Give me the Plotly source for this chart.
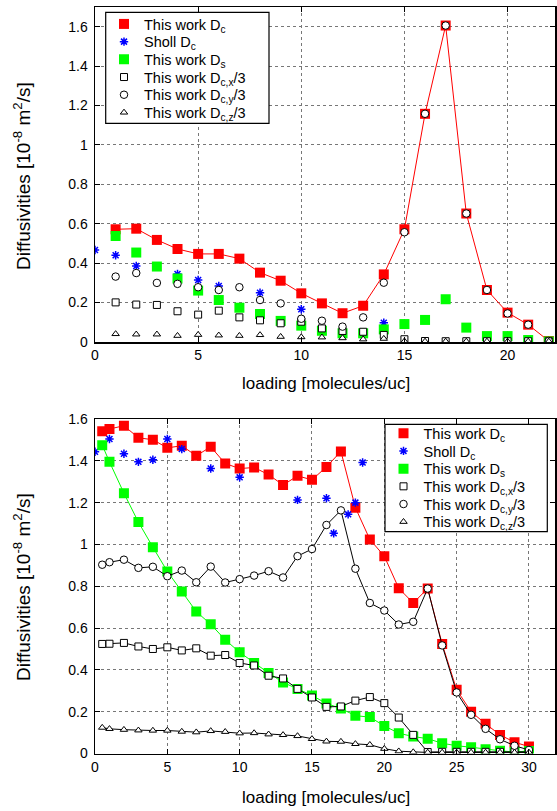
import plotly.graph_objects as go

# ---------------- data: top panel ----------------
top_x = list(range(1, 23))
top_dc = [0.572, 0.575, 0.518, 0.472, 0.447, 0.447, 0.423, 0.352, 0.311, 0.247, 0.196,
          0.146, 0.184, 0.343, 0.572, 1.158, 1.606, 0.652, 0.264, 0.149, 0.088, 0.005]
top_sholl_x = [0, 1, 2, 4, 5, 6, 8, 10, 14]
top_sholl = [0.467, 0.440, 0.386, 0.345, 0.315, 0.284, 0.250, 0.166, 0.098]
top_ds = [0.538, 0.454, 0.383, 0.322, 0.261, 0.213, 0.174, 0.142, 0.107, 0.083, 0.057,
          0.044, 0.044, 0.064, 0.091, 0.112, 0.217, 0.073, 0.030, 0.030, 0.010, 0.003]
top_dcx = [0.201, 0.190, 0.188, 0.156, 0.139, 0.159, 0.125, 0.110, 0.095, 0.103, 0.069,
           0.056, 0.052, 0.036, 0.014, 0.005, 0.004, 0.004, 0.004, 0.004, 0.004, 0.004]
top_dcy = [0.332, 0.350, 0.300, 0.295, 0.278, 0.264, 0.278, 0.213, 0.196, 0.118, 0.108,
           0.078, 0.125, 0.301, 0.557, 1.158, 1.606, 0.652, 0.264, 0.145, 0.088, 0.005]
top_dcz = [0.041, 0.039, 0.039, 0.032, 0.037, 0.034, 0.032, 0.036, 0.027, 0.025, 0.024,
           0.020, 0.014, 0.017, 0.004, 0.003, 0.003, 0.003, 0.003, 0.003, 0.003, 0.003]

# ---------------- data: bottom panel ----------------
bot_x = [0.5] + list(range(1, 31))
bot_dc = [1.542, 1.552, 1.568, 1.510, 1.501, 1.462, 1.472, 1.424, 1.467, 1.387, 1.363,
          1.368, 1.334, 1.284, 1.328, 1.309, 1.371, 1.445, 1.176, 1.024, 0.944, 0.790,
          0.720, 0.789, 0.524, 0.305, 0.200, 0.142, 0.089, 0.054, 0.033]
bot_sholl_x = [0, 1, 2, 3, 4, 5, 6, 8, 10, 14, 16, 16.5, 17.5, 18, 18.5]
bot_sholl = [1.443, 1.504, 1.434, 1.395, 1.405, 1.504, 1.456, 1.363, 1.321, 1.213, 1.221,
             1.053, 1.144, 1.200, 1.392]
bot_ds = [1.475, 1.395, 1.245, 1.107, 0.987, 0.871, 0.775, 0.679, 0.618, 0.544, 0.484,
          0.433, 0.385, 0.340, 0.308, 0.278, 0.239, 0.215, 0.181, 0.174, 0.132, 0.097,
          0.081, 0.071, 0.049, 0.037, 0.030, 0.020, 0.013, 0.007, 0.012]
bot_dcx = [0.524, 0.525, 0.529, 0.512, 0.500, 0.508, 0.493, 0.503, 0.468, 0.471, 0.433,
           0.421, 0.372, 0.359, 0.309, 0.268, 0.223, 0.225, 0.253, 0.270, 0.241, 0.172,
           0.089, 0.007, 0.008, 0.008, 0.008, 0.008, 0.008, 0.008, 0.008]
bot_dcy = [0.903, 0.915, 0.927, 0.888, 0.893, 0.848, 0.875, 0.819, 0.894, 0.818, 0.834,
           0.851, 0.872, 0.842, 0.944, 0.978, 1.093, 1.163, 0.884, 0.720, 0.684, 0.617,
           0.630, 0.789, 0.517, 0.292, 0.185, 0.118, 0.068, 0.037, 0.017]
bot_dcz = [0.124, 0.118, 0.114, 0.111, 0.110, 0.110, 0.105, 0.102, 0.108, 0.104, 0.097,
           0.098, 0.092, 0.089, 0.084, 0.070, 0.058, 0.057, 0.046, 0.042, 0.023, 0.011,
           0.007, 0.005, 0.005, 0.005, 0.005, 0.005, 0.005, 0.005, 0.005]

legend_names = ["This work D<sub>c</sub>", "Sholl D<sub>c</sub>", "This work D<sub>s</sub>",
                "This work D<sub>c,x</sub>/3", "This work D<sub>c,y</sub>/3",
                "This work D<sub>c,z</sub>/3"]
x_ticks_top = [0, 5, 10, 15, 20]
x_ticks_bot = [0, 5, 10, 15, 20, 25, 30]
y_ticks = [0, 0.2, 0.4, 0.6, 0.8, 1, 1.2, 1.4, 1.6]

FONT = "Liberation Sans, Arial, Helvetica, sans-serif"
W, H = 557, 811
RED, GREEN, BLUE, BLACK = "#ff0000", "#00ff00", "#0000ff", "#000000"

styles = [
    dict(symbol="square", size=10, color=RED, line=dict(width=0)),
    dict(symbol="asterisk-open", size=7, color=BLUE, line=dict(width=1.5, color=BLUE)),
    dict(symbol="square", size=10, color=GREEN, line=dict(width=0)),
    dict(symbol="square", size=7, color="white", line=dict(width=1, color=BLACK)),
    dict(symbol="circle", size=7.5, color="white", line=dict(width=1, color=BLACK)),
    dict(symbol="triangle-up", size=6.5, color="white", line=dict(width=1, color=BLACK)),
]

fig = go.Figure()

# top panel: only Dc has a line
top_series = [(top_x, top_dc, "lines+markers", RED), (top_sholl_x, top_sholl, "markers", None),
              (top_x, top_ds, "markers", None), (top_x, top_dcx, "markers", None),
              (top_x, top_dcy, "markers", None), (top_x, top_dcz, "markers", None)]
for (xs, ys, mode, lc), st in zip(top_series, styles):
    fig.add_trace(go.Scatter(x=xs, y=ys, mode=mode, marker=st,
                             line=dict(color=lc or BLACK, width=1),
                             xaxis="x", yaxis="y", showlegend=False))

bot_series = [(bot_x, bot_dc, "lines+markers", RED), (bot_sholl_x, bot_sholl, "markers", None),
              (bot_x, bot_ds, "lines+markers", GREEN), (bot_x, bot_dcx, "lines+markers", BLACK),
              (bot_x, bot_dcy, "lines+markers", BLACK), (bot_x, bot_dcz, "lines+markers", BLACK)]
for (xs, ys, mode, lc), st in zip(bot_series, styles):
    fig.add_trace(go.Scatter(x=xs, y=ys, mode=mode, marker=st,
                             line=dict(color=lc or BLACK, width=1),
                             xaxis="x2", yaxis="y2", showlegend=False))

# legend boxes (pixel geometry of the reference key boxes)
boxes = [(105.7, 12.3, 269, 123.3), (385, 424.3, 547.3, 531.7)]
row_step = 17.7
first_row = [24.0, 433.3]
legend_left = [104.0, 383.5]

layout_legends = {}
k = 0
for p in range(2):
    x0, y0, x1, y1 = boxes[p]
    fig.add_shape(type="rect", xref="paper", yref="paper", layer="above",
                  x0=x0 / W, x1=x1 / W, y0=1 - y1 / H, y1=1 - y0 / H,
                  line=dict(color=BLACK, width=1.2), fillcolor="white")
    for i, (name, st) in enumerate(zip(legend_names, styles)):
        k += 1
        lname = "legend" if k == 1 else f"legend{k}"
        fig.add_trace(go.Scatter(x=[None], y=[None], mode="markers", marker=st, name=name,
                                 legend=lname, showlegend=True,
                                 xaxis="x" if p == 0 else "x2",
                                 yaxis="y" if p == 0 else "y2"))
        yc = first_row[p] + i * row_step
        layout_legends[lname] = dict(
            x=legend_left[p] / W, y=1 - yc / H, xanchor="left", yanchor="middle",
            bgcolor="rgba(0,0,0,0)", borderwidth=0,
            font=dict(family=FONT, size=14.5, color=BLACK), itemsizing="trace")

xl, xr = 95 / W, 555 / W
ax_common = dict(showline=True, linecolor=BLACK, linewidth=1.5, mirror="allticks",
                 ticks="inside", ticklen=5, tickwidth=1, tickcolor=BLACK,
                 showgrid=True, gridcolor="#777777", griddash="dot", gridwidth=1,
                 zeroline=False, tickfont=dict(family=FONT, size=14, color=BLACK),
                 fixedrange=True, automargin=False)

fig.update_layout(
    width=W, height=H, autosize=False,
    margin=dict(l=0, r=0, t=0, b=0, pad=0, autoexpand=False),
    paper_bgcolor="white", plot_bgcolor="white",
    font=dict(family=FONT, size=14, color=BLACK),
    xaxis=dict(domain=[xl, xr], range=[0, 22.3], tickvals=x_ticks_top, anchor="y",
               ticklabelstandoff=0, **ax_common),
    yaxis=dict(domain=[1 - 342 / H, 1 - 7 / H], range=[0, 1.70], tickvals=y_ticks,
               anchor="x", ticklabelstandoff=3, **ax_common),
    xaxis2=dict(domain=[xl, xr], range=[0, 31.8], tickvals=x_ticks_bot, anchor="y2",
                ticklabelstandoff=0, **ax_common),
    yaxis2=dict(domain=[1 - 753.5 / H, 1 - 419 / H], range=[0, 1.6], tickvals=y_ticks,
                anchor="x2", ticklabelstandoff=3, **ax_common),
    **layout_legends,
)

ytitle = "Diffusivities [10<sup>-8</sup> m<sup>2</sup>/s]"
xtitle = "loading [molecules/uc]"
annots = [
    dict(text=ytitle, x=22 / W, y=1 - 176 / H, textangle=-90, size=19),
    dict(text=ytitle, x=22 / W, y=1 - 587 / H, textangle=-90, size=19),
    dict(text=xtitle, x=326 / W, y=1 - 383 / H, textangle=0, size=17),
    dict(text=xtitle, x=326 / W, y=1 - 797 / H, textangle=0, size=17),
]
for a in annots:
    sz = a.pop("size")
    fig.add_annotation(xref="paper", yref="paper", showarrow=False, xanchor="center",
                       yanchor="middle", font=dict(family=FONT, size=sz, color=BLACK), **a)

fig.write_html("out.html",
               config={"displayModeBar": False, "staticPlot": True},
               post_script="document.body.style.margin='0px';"
                           "document.body.style.overflow='hidden';")
